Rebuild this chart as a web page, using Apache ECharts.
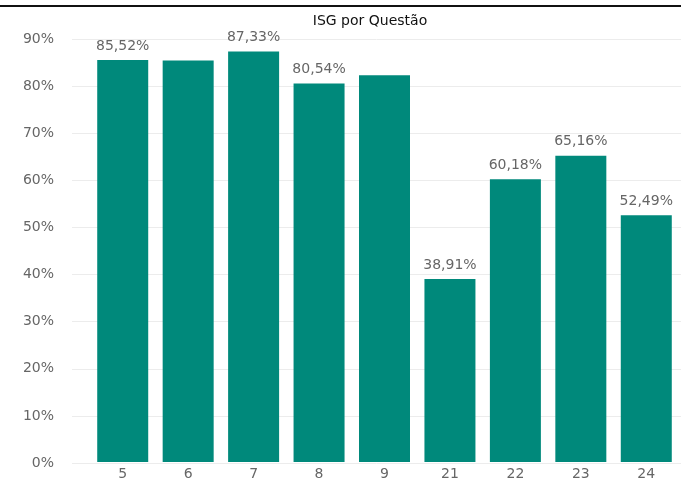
<!DOCTYPE html>
<html>
<head>
<meta charset="utf-8">
<script src="https://cdn.jsdelivr.net/npm/echarts@6/dist/echarts.min.js"></script>
<style>html,body{margin:0;padding:0;background:#fff;}#c{width:681px;height:481px;}</style>
</head>
<body>
<div id="c"></div>
<script>
var categories = ['5', '6', '7', '8', '9', '21', '22', '23', '24'];
var values = [85.52, 85.45, 87.33, 80.54, 82.3, 38.91, 60.18, 65.16, 52.49];
var showLabel = [true, false, true, true, false, true, true, true, true];
var yTicks = [0, 10, 20, 30, 40, 50, 60, 70, 80, 90];

var chart = echarts.init(document.getElementById('c'));
var font = 'DejaVu Sans, sans-serif';
chart.setOption({
  animation: false,
  title: {
    text: 'ISG por Questão',
    left: 365, top: 9, textAlign: 'center',
    textStyle: { fontFamily: font, fontSize: 14, fontWeight: 'normal', color: '#111' }
  },
  graphic: [{
    type: 'rect', shape: { x: 0, y: 5, width: 681, height: 2 },
    style: { fill: '#111' }, silent: true
  }],
  grid: [
    { left: 72, right: 0, top: 39, bottom: 18 },
    { left: 90, right: 2, top: 39, bottom: 18 }
  ],
  xAxis: [
    { type: 'category', gridIndex: 0, data: categories, show: false },
    {
      type: 'category', gridIndex: 1, data: categories,
      axisLine: { show: false }, axisTick: { show: false },
      axisLabel: { color: '#666', fontFamily: font, fontSize: 14, margin: 5 }
    }
  ],
  yAxis: [
    {
      type: 'value', gridIndex: 0, min: 0, max: 90, interval: 10,
      axisLine: { show: false }, axisTick: { show: false },
      axisLabel: { color: '#666', fontFamily: font, fontSize: 14, margin: 18,
        formatter: function (v) { return yTicks.indexOf(v) >= 0 ? v + '%' : ''; } },
      splitLine: { lineStyle: { color: '#ececec', width: 1 } }
    },
    {
      type: 'value', gridIndex: 1, min: 0, max: 90, interval: 10, show: false,
      splitLine: { show: false }
    }
  ],
  series: [{
    type: 'bar', xAxisIndex: 1, yAxisIndex: 1,
    barWidth: 51,
    itemStyle: { color: '#00897B' },
    data: values.map(function (v, i) {
      return {
        value: v,
        label: {
          show: showLabel[i], position: 'top', distance: 7,
          color: '#666', fontFamily: font, fontSize: 14,
          formatter: function (p) { return p.value.toFixed(2).replace('.', ',') + '%'; }
        }
      };
    })
  }]
});
</script>
</body>
</html>
